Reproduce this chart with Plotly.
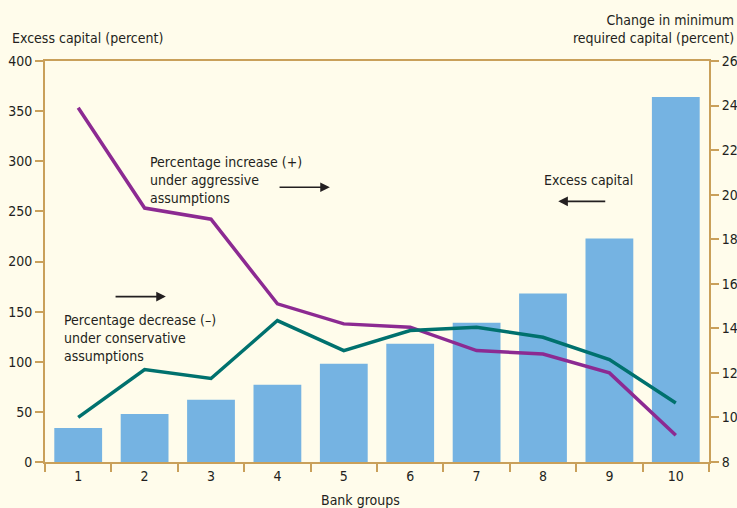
import plotly.graph_objects as go

groups = ["1", "2", "3", "4", "5", "6", "7", "8", "9", "10"]
excess_capital = [34, 48, 62, 77, 98, 118, 139, 168, 223, 364]
aggressive_increase = [23.9, 19.4, 18.9, 15.1, 14.2, 14.05, 13.0, 12.85, 12.0, 9.2]
conservative_decrease = [10.0, 12.15, 11.75, 14.35, 13.0, 13.9, 14.05, 13.6, 12.6, 10.65]

left_ticks = [0, 50, 100, 150, 200, 250, 300, 350, 400]
right_ticks = [8, 10, 12, 14, 16, 18, 20, 22, 24, 26]

AX = "#C9A05A"
BG = "#FFFCEB"
FONT = "DejaVu Sans Condensed, Liberation Sans, sans-serif"
TXT = "#231F20"
FS = 14

fig = go.Figure()
fig.add_trace(go.Bar(x=groups, y=excess_capital, marker=dict(color="#75B3E2", line=dict(width=0)),
                     width=0.72, yaxis="y"))
fig.add_trace(go.Scatter(x=groups, y=aggressive_increase, mode="lines",
                         line=dict(color="#8C2A92", width=3.5), yaxis="y2"))
fig.add_trace(go.Scatter(x=groups, y=conservative_decrease, mode="lines",
                         line=dict(color="#00716E", width=3.5), yaxis="y2"))

fig.update_layout(
    width=737, height=508,
    margin=dict(l=45, r=28, t=61, b=46, autoexpand=False),
    paper_bgcolor=BG, plot_bgcolor=BG,
    showlegend=False,
    font=dict(family=FONT, size=FS, color=TXT),
    xaxis=dict(type="category", categoryorder="array", categoryarray=groups,
               range=[-0.5, 9.5], tickson="boundaries", ticks="outside", ticklen=8,
               tickcolor=AX, tickwidth=2, showline=True, linecolor=AX, linewidth=2,
               mirror=True, showgrid=False, zeroline=False, automargin=False,
               tickfont=dict(family=FONT, size=FS, color=TXT)),
    yaxis=dict(range=[0, 400], tickvals=left_ticks, ticks="outside", ticklen=8,
               tickcolor=AX, tickwidth=2, showline=True, linecolor=AX, linewidth=2,
               showgrid=False, zeroline=False, automargin=False,
               tickfont=dict(family=FONT, size=FS, color=TXT)),
    yaxis2=dict(range=[8, 26], tickvals=right_ticks, overlaying="y", side="right",
                ticks="outside", ticklen=8, tickcolor=AX, tickwidth=2, showline=True,
                linecolor=AX, linewidth=2, showgrid=False, zeroline=False, automargin=False,
                tickfont=dict(family=FONT, size=FS, color=TXT)),
)

ann = []
ann.append(dict(text="Excess capital (percent)", xref="paper", yref="paper", x=-0.053, y=1.0,
                xanchor="left", yanchor="bottom", yshift=13, showarrow=False, align="left"))
ann.append(dict(text="Change in minimum<br>required capital (percent)", xref="paper", yref="paper",
                x=1.0, xshift=27, y=1.0, yshift=13, xanchor="right", yanchor="bottom",
                showarrow=False, align="right"))
ann.append(dict(text="Bank groups", xref="paper", yref="paper", x=0.475, y=0, yshift=-28,
                xanchor="center", yanchor="top", showarrow=False))
ann.append(dict(text="Percentage increase (+)<br>under aggressive<br>assumptions", xref="x", yref="y",
                x=1.05, y=309, xanchor="left", yanchor="top", showarrow=False, align="left"))
ann.append(dict(text="Percentage decrease (\u2013)<br>under conservative<br>assumptions", xref="x", yref="y",
                x=-0.24, y=152, xanchor="left", yanchor="top", showarrow=False, align="left"))
ann.append(dict(text="Excess capital", xref="x", yref="y", x=7.69, y=281,
                xanchor="center", yanchor="middle", showarrow=False))
# arrows
ann.append(dict(text="", x=3.79, y=274, ax=3.01, ay=274, xref="x", yref="y", axref="x", ayref="y",
                showarrow=True, arrowhead=2, arrowsize=1.2, arrowwidth=1.6, arrowcolor=TXT))
ann.append(dict(text="", x=1.32, y=165, ax=0.54, ay=165, xref="x", yref="y", axref="x", ayref="y",
                showarrow=True, arrowhead=2, arrowsize=1.2, arrowwidth=1.6, arrowcolor=TXT))
ann.append(dict(text="", x=7.23, y=260, ax=7.96, ay=260, xref="x", yref="y", axref="x", ayref="y",
                showarrow=True, arrowhead=2, arrowsize=1.2, arrowwidth=1.6, arrowcolor=TXT))
fig.update_layout(annotations=ann)

fig.write_html("out.html", config={"displayModeBar": False},
               post_script="document.body.style.margin='0';document.body.style.padding='0';")
